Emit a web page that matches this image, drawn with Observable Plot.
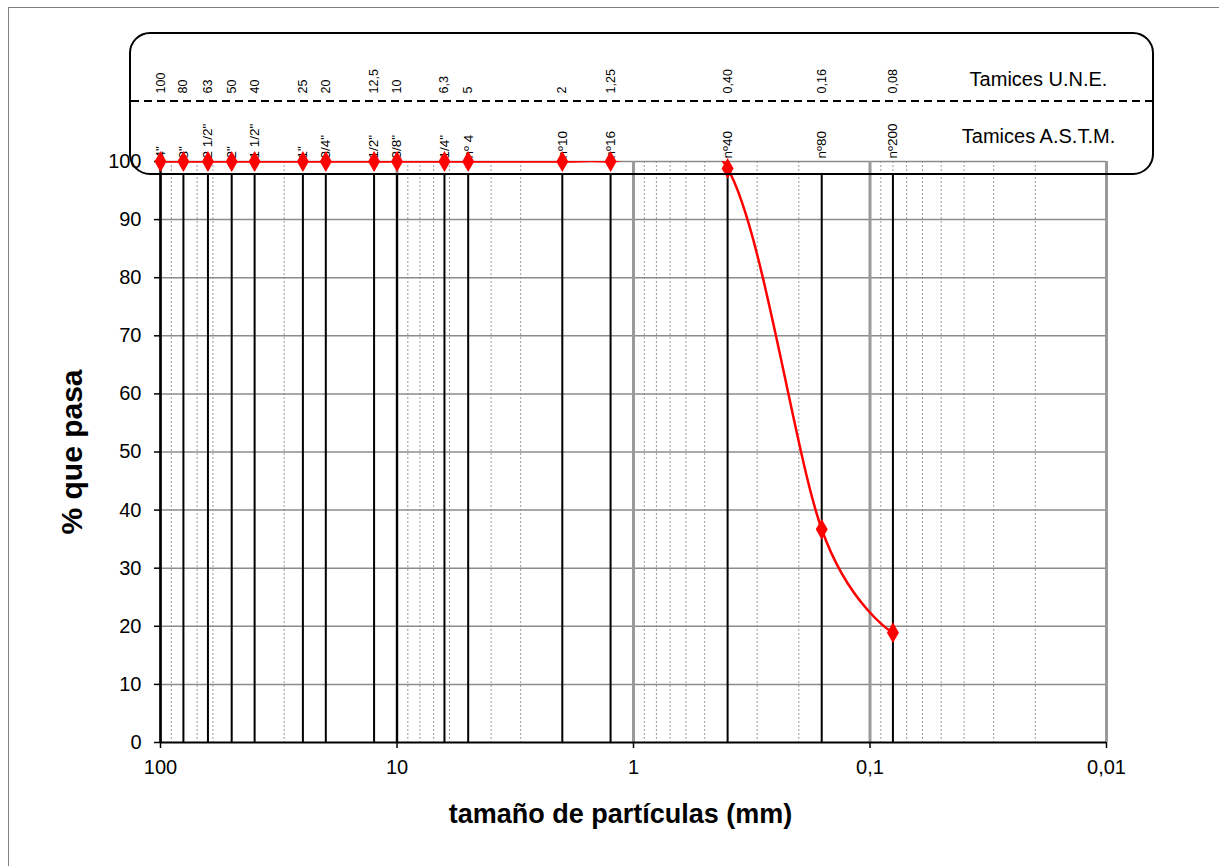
<!DOCTYPE html>
<html>
<head>
<meta charset="utf-8">
<script src="https://cdn.jsdelivr.net/npm/d3@7"></script>
<script src="https://cdn.jsdelivr.net/npm/@observablehq/plot@0.6"></script>
<style>
  html, body { margin: 0; padding: 0; background: white; overflow: hidden; }
  svg { display: block; }
</style>
</head>
<body>
<div id="chart"></div>
<script>
// ---- data ----
const sieveSizes = [100, 80, 63, 50, 40, 25, 20, 12.5, 10, 6.3, 5, 2, 1.25, 0.40, 0.16, 0.08];
const uneLabels = ["100", "80", "63", "50", "40", "25", "20", "12,5", "10", "6,3", "5", "2", "1,25", "0,40", "0,16", "0,08"];
const astmLabels = ['4"', '3"', '2 1/2"', '2"', '1 1/2"', '1"', '3/4"', '1/2"', '3/8"', '1/4"', 'nº 4', 'nº10', 'nº16', 'nº40', 'nº80', 'nº200'];
const passing = [100, 100, 100, 100, 100, 100, 100, 100, 100, 100, 100, 100, 100, 98.8, 36.7, 18.9];

const xTicks = [100, 10, 1, 0.1, 0.01];
const xTickLabels = ["100", "10", "1", "0,1", "0,01"];
const yTicks = [0, 10, 20, 30, 40, 50, 60, 70, 80, 90, 100];
const boxTitles = ["Tamices U.N.E.", "Tamices A.S.T.M."];
const xTitle = "tamaño de partículas (mm)";
const yTitle = "% que pasa";

// minor log gridlines 2..9 within each decade
const minorGrid = [];
for (const dec of [10, 1, 0.1, 0.01]) for (let k = 2; k <= 9; k++) minorGrid.push(+(k * dec).toPrecision(3));

const sieves = sieveSizes.map((size, i) => ({size, une: uneLabels[i], astm: astmLabels[i], pass: passing[i]}));
const xLabelMap = new Map(xTicks.map((t, i) => [t, xTickLabels[i]]));

const font = "'Liberation Sans', Arial, Helvetica, sans-serif";
const sieveTop = 97.8; // sieve lines stop at bottom of the label box

const chart = Plot.plot({
  width: 1219,
  height: 866,
  marginLeft: 160,
  marginRight: 113,
  marginTop: 161,
  marginBottom: 124,
  style: {fontFamily: font, background: "white", color: "black"},
  x: {type: "log", domain: [100, 0.01], axis: null},
  y: {domain: [0, 100], axis: null},
  marks: [
    // minor dotted grid
    Plot.ruleX(minorGrid, {stroke: "#9a9a9a", strokeWidth: 1, strokeDasharray: "2,2"}),
    // horizontal grid
    Plot.ruleY(yTicks.filter(d => d > 0), {stroke: "#8c8c8c", strokeWidth: 1.5}),
    // decade grid
    Plot.ruleX(xTicks, {stroke: "#9a9a9a", strokeWidth: 3}),
    // sieve lines
    Plot.ruleX(sieves, {x: "size", y1: 0, y2: sieveTop, stroke: "black", strokeWidth: 2}),
    // axis lines
    Plot.ruleX([100], {stroke: "black", strokeWidth: 2}),
    Plot.ruleY([0], {stroke: "black", strokeWidth: 2}),
    // axes
    Plot.axisX(xTicks, {label: null, tickFormat: d => xLabelMap.get(d), fontSize: 20, tickSize: 6, tickPadding: 11, stroke: "black", strokeWidth: 1.5}),
    Plot.axisY(yTicks, {label: null, fontSize: 20, tickSize: 6, tickPadding: 13, stroke: "black", strokeWidth: 1.5}),
    // sieve labels
    Plot.text(sieves, {x: "size", text: "une", frameAnchor: "top", lineAnchor: "middle", dy: -68, rotate: -90, textAnchor: "start", fontSize: 12.5}),
    Plot.text(sieves, {x: "size", text: "astm", frameAnchor: "top", lineAnchor: "middle", dy: -3, rotate: -90, textAnchor: "start", fontSize: 13.5}),
    // box titles
    Plot.text([boxTitles[0]], {text: d => d, frameAnchor: "top-right", textAnchor: "middle", lineAnchor: "middle", dx: -68, dy: -82, fontSize: 20}),
    Plot.text([boxTitles[1]], {text: d => d, frameAnchor: "top-right", textAnchor: "middle", lineAnchor: "middle", dx: -68, dy: -25, fontSize: 20}),
    // curve (smoothed, clipped to the frame like the original)
    Plot.line(sieves, {x: "size", y: "pass", stroke: "#ff0000", strokeWidth: 2.5, curve: "cardinal", clip: true}),
    Plot.dot(sieves, {x: "size", y: "pass", symbol: "diamond", r: 6.3, fill: "#ff0000", stroke: "none"}),
    // axis titles
    Plot.text([xTitle], {text: d => d, frameAnchor: "bottom", textAnchor: "middle", lineAnchor: "middle", dx: -13, dy: 72, fontSize: 27, fontWeight: "bold"}),
    Plot.text([yTitle], {text: d => d, frameAnchor: "left", textAnchor: "middle", lineAnchor: "middle", dx: -88, rotate: -90, fontSize: 30, fontWeight: "bold"})
  ]
});

document.getElementById("chart").appendChild(chart);

// decorations: outer border, rounded label box, dashed divider
const svg = d3.select(chart);
const L = 160, T = 161;
svg.append("rect")
  .attr("x", 8.5).attr("y", 7.5).attr("width", 1400).attr("height", 1000)
  .attr("fill", "none").attr("stroke", "#808080").attr("stroke-width", 1);
svg.append("rect")
  .attr("x", L - 30).attr("y", T - 128).attr("width", 1153 - (L - 30)).attr("height", 141)
  .attr("rx", 20).attr("ry", 20)
  .attr("fill", "none").attr("stroke", "black").attr("stroke-width", 2);
svg.append("line")
  .attr("x1", L - 29).attr("x2", 1152).attr("y1", T - 60).attr("y2", T - 60)
  .attr("stroke", "black").attr("stroke-width", 2).attr("stroke-dasharray", "8,5");
</script>
</body>
</html>
